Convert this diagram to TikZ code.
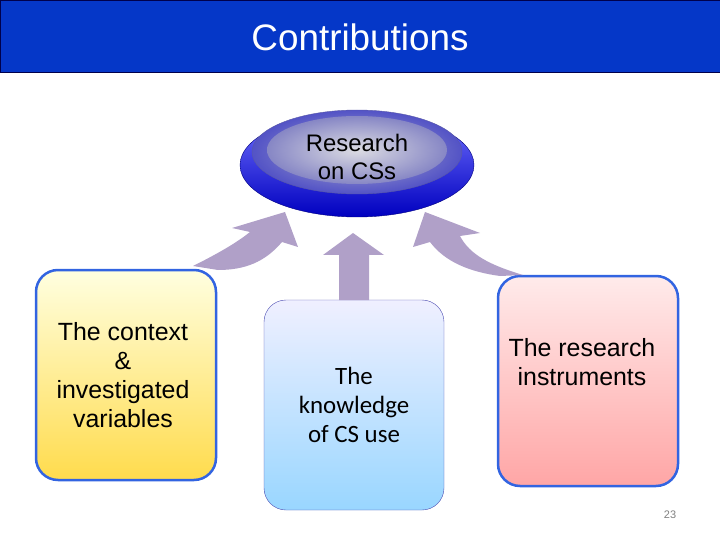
\documentclass[tikz,border=0pt]{standalone}
\usepackage{fontspec}
\setmainfont{Liberation Sans}
\newfontfamily\carlito{Carlito}
\definecolor{titleblue}{RGB}{5,55,200}
\definecolor{boxblue}{RGB}{50,100,225}
\definecolor{arrowlav}{RGB}{176,160,200}
\begin{document}
\begin{tikzpicture}[x=1bp, y=-1bp,
    box/.style={rounded corners=22bp, line width=2.5bp, draw=boxblue},
    fatarrow/.style={fill=arrowlav, draw=none},
    lbl/.style={align=center, font=\fontsize{25}{29}\selectfont}]
  \useasboundingbox (0,0) rectangle (720,540);
  % Title bar
  \fill[titleblue, draw=blue!30!black] (0,0) rectangle (720,72);
  \node[white, font=\fontsize{37}{37}\selectfont] (title) at (360,37) {Contributions};

  % Disc
  \shade[top color=blue!55!white, bottom color=blue!75!black, draw=blue!50!black] (357,165) ellipse (117 and 52);
  \shade[inner color=blue!25!gray!50, outer color=blue!50!gray!90, draw=blue!30!gray] (357,152) ellipse (105 and 42);
  \shade[inner color=blue!10!gray!25, outer color=blue!35!gray!70] (357,150) ellipse (90 and 34);
  \node[lbl, font=\fontsize{24}{28}\selectfont] (research) at (357,157) {Research\\ on CSs};

  % Boxes
  \shade[box, top color=yellow!12, bottom color=orange!40!yellow!70] (36,270) rectangle (216,480);
  \node[lbl] (context) at (123,375) {The context\\ \&\\ investigated\\ variables};
  \shade[rounded corners=22bp, draw=gray!60!blue, top color=blue!6, bottom color=blue!40!cyan!40] (264,300) rectangle (444,510);
  \node[align=center, font=\carlito\fontsize{25}{29}\selectfont] (knowledge) at (354,405) {The\\ knowledge\\ of CS use};
  \shade[box, top color=red!8, bottom color=red!35] (498,276) rectangle (678,486);
  \node[lbl] (instr) at (582,362) {The research\\ instruments};

  % Arrows
  \fill[fatarrow] (339,300) -- (339,255) -- (323,255) -- (353,233) -- (384,255) -- (369,255) -- (369,300) -- cycle;
  \fill[fatarrow] (193,266) .. controls (225,250) and (240,240) .. (250,232) -- (232,228) -- (285,212) -- (298,247)
     -- (282,242) .. controls (265,262) and (245,270) .. (218,270) -- cycle;
  \fill[fatarrow] (523,275) .. controls (490,265) and (470,255) .. (460,236) -- (480,233) -- (425,212) -- (413,247)
     -- (430,242) .. controls (445,262) and (470,272) .. (500,276) -- cycle;

  \node[gray, font=\fontsize{11}{11}\selectfont] (page) at (670,515) {23};
\end{tikzpicture}
\end{document}
